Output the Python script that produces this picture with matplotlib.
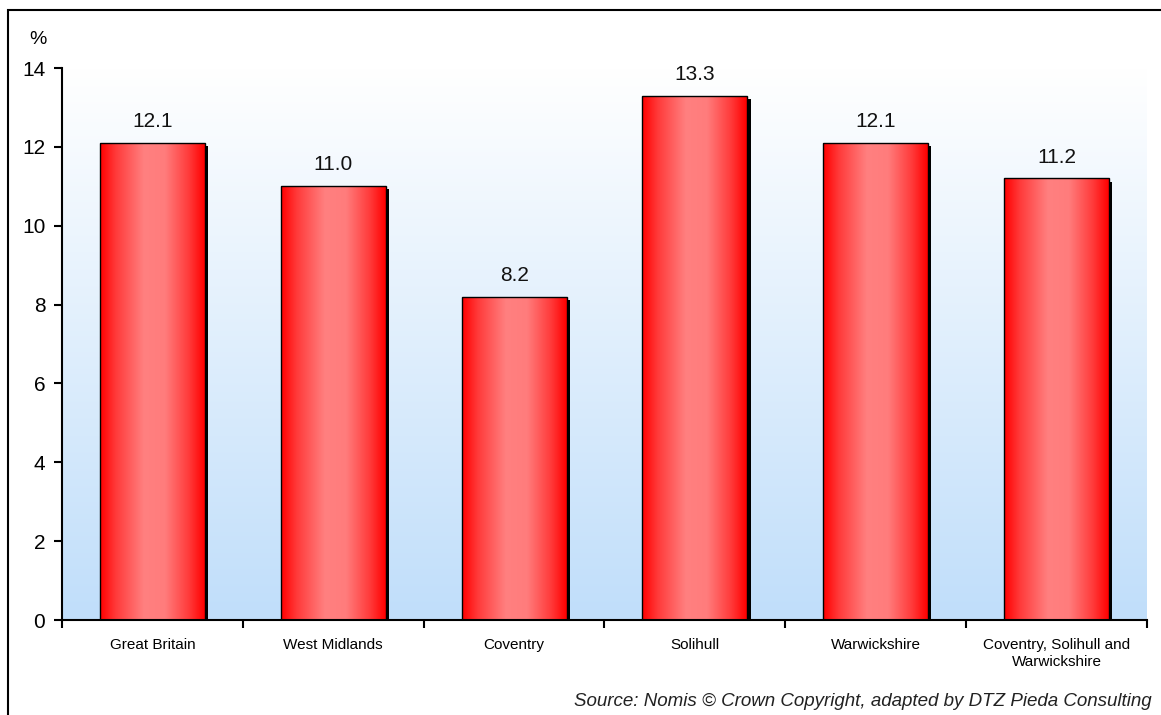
import numpy as np
import matplotlib.pyplot as plt
from matplotlib.colors import LinearSegmentedColormap
from matplotlib.patches import Rectangle

plt.rcParams['font.family'] = ['Liberation Sans', 'DejaVu Sans']

categories = ["Great Britain", "West Midlands", "Coventry", "Solihull",
              "Warwickshire", "Coventry, Solihull and\nWarwickshire"]
values = [12.1, 11.0, 8.2, 13.3, 12.1, 11.2]
labels = ["12.1", "11.0", "8.2", "13.3", "12.1", "11.2"]

W, H = 1161, 715
fig = plt.figure(figsize=(W / 100, H / 100), dpi=100)
ax = fig.add_axes([62 / W, 1 - 620 / H, (1147 - 62) / W, (620 - 68) / H])

# outer frame (open at right / bottom like the original crop)
fig.patches.append(Rectangle((8 / W, -0.1), 1.2, 1 - 10 / H + 0.1, transform=fig.transFigure,
                             fill=False, edgecolor='black', linewidth=1.5))

# background gradient
bg = LinearSegmentedColormap.from_list('bg', ['#c0defa', '#ffffff'])
ax.imshow(np.linspace(0, 1, 256).reshape(-1, 1), cmap=bg, origin='lower', aspect='auto',
          extent=[-0.5, 5.5, 0, 14], zorder=0)

x = np.arange(len(categories))
bw = 0.58

# drop shadow
ax.bar(x + 0.018, values, width=bw, bottom=-0.08, color='black', zorder=1)

bar_cmap = LinearSegmentedColormap.from_list(
    'bar', [(0, '#ff0000'), (0.15, '#ff3a3a'), (0.42, '#ff8080'), (0.62, '#ff7c7c'),
            (0.85, '#ff3a3a'), (1, '#ff0000')])
bars = ax.bar(x, values, width=bw, facecolor='none', edgecolor='black', linewidth=1, zorder=3)
grad = np.linspace(0, 1, 256).reshape(1, -1)
for b in bars:
    x0, y0 = b.get_x(), b.get_y()
    im = ax.imshow(grad, cmap=bar_cmap, aspect='auto', zorder=2,
                   extent=[x0, x0 + b.get_width(), y0, y0 + b.get_height()])
    im.set_clip_path(b)

for xi, v, lab in zip(x, values, labels):
    ax.text(xi, v + 0.3, lab, ha='center', va='bottom', fontsize=15, color='#111111')

ax.set_xlim(-0.5, 5.5)
ax.set_ylim(0, 14)
ax.set_yticks(range(0, 15, 2))
ax.tick_params(axis='y', labelsize=15, length=6, width=1.5, direction='out', pad=6)
ax.set_xticks(np.arange(-0.5, 6, 1))
ax.set_xticklabels([])
ax.set_xticks(x, minor=True)
ax.set_xticklabels(categories, minor=True, fontsize=11, linespacing=1.3)
ax.tick_params(axis='x', which='minor', length=0, pad=13)
ax.tick_params(axis='x', which='major', length=6, width=1.5, direction='out')
for s in ['top', 'right']:
    ax.spines[s].set_visible(False)
for s in ['left', 'bottom']:
    ax.spines[s].set_linewidth(1.5)

fig.text(38 / W, 1 - 40 / H, "%", fontsize=14, ha='center', va='center')
fig.text(1152 / W, 1 - 701 / H, "Source: Nomis \u00a9 Crown Copyright, adapted by DTZ Pieda Consulting",
         fontsize=13.5, style='italic', ha='right', va='center', color='#222222')

fig.savefig("out.png", dpi=100)
